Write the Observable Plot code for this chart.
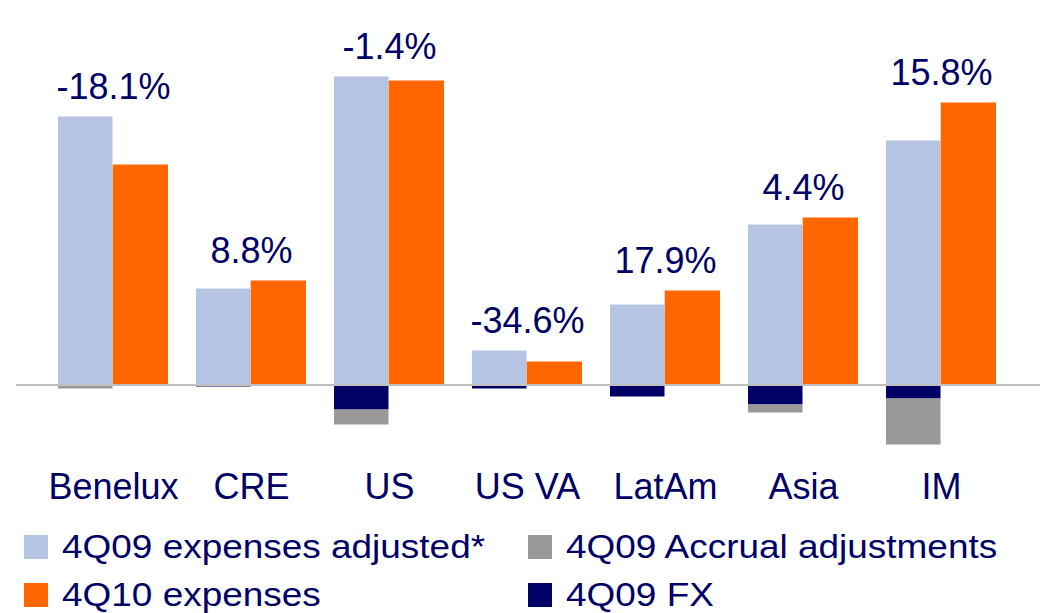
<!DOCTYPE html>
<html>
<head>
<meta charset="utf-8">
<script src="https://cdn.jsdelivr.net/npm/d3@7"></script>
<script src="https://cdn.jsdelivr.net/npm/@observablehq/plot@0.6"></script>
<style>
  html, body { margin: 0; padding: 0; background: #fff; }
  #wrap { width: 1047px; height: 613px; overflow: hidden; font-family: "Liberation Sans", Arial, sans-serif; }
  #wrap svg { display: block; }
</style>
</head>
<body>
<div id="wrap"></div>
<script>
// ---- data ----
const categories = ["Benelux", "CRE", "US", "US VA", "LatAm", "Asia", "IM"];
const expenses4Q09Adjusted = [268, 96, 308, 34, 80, 160, 244];
const expenses4Q10 = [220, 104, 304, 23, 94, 167, 282];
const fx4Q09 = [0, -2, -25, -4, -12, -20, -14];
const accrual4Q09 = [-4, 0, -15, 0, 0, -8, -46];
const changeLabels = ["-18.1%", "8.8%", "-1.4%", "-34.6%", "17.9%", "4.4%", "15.8%"];
const legendLabels = ["4Q09 expenses adjusted*", "4Q10 expenses", "4Q09 Accrual adjustments", "4Q09 FX"];

const C_ADJ = "#B4C4E2", C_10 = "#FF6600", C_ACC = "#999999", C_FX = "#000066", NAVY = "#000066";

const rows = categories.map((c, i) => ({
  cat: c, a: expenses4Q09Adjusted[i], b: expenses4Q10[i],
  fx: fx4Q09[i], acc: accrual4Q09[i], label: changeLabels[i],
  top: Math.max(expenses4Q09Adjusted[i], expenses4Q10[i])
}));
const neg = [];
rows.forEach(r => {
  neg.push({cat: r.cat, y1: 0, y2: r.fx, fill: C_FX});
  neg.push({cat: r.cat, y1: r.fx, y2: r.fx + r.acc, fill: C_ACC});
});

const W = 1047, H = 520;
const xRange = [28, 1027], xPad = 0.2;
const step = (xRange[1] - xRange[0]) / (categories.length - xPad + 2 * xPad);
const half = step * (1 - xPad) / 2;

const chart = Plot.plot({
  width: W, height: H,
  marginLeft: 16, marginRight: 7, marginTop: 0, marginBottom: 75,
  style: {fontFamily: "'Liberation Sans', Arial, sans-serif", color: NAVY, background: "#fff"},
  x: {domain: categories, range: xRange, padding: xPad, axis: null},
  y: {domain: [-60.5, 384.5], axis: null},
  color: {type: "identity"},
  marks: [
    Plot.barY(rows, {x: "cat", y: "a", fill: C_ADJ, insetRight: half}),
    Plot.barY(rows, {x: "cat", y: "b", fill: C_10, insetLeft: half - 0.8}),
    Plot.barY(neg, {x: "cat", y1: "y1", y2: "y2", fill: "fill", insetRight: half}),
    Plot.ruleY([0], {stroke: "#C0C0C0", strokeWidth: 2}),
    Plot.text(rows, {x: "cat", y: "top", text: "label", fontSize: 36, lineAnchor: "bottom", dy: -18, fill: NAVY}),
    Plot.axisX({tickSize: 0, tickPadding: 28, fontSize: 36, fill: NAVY, label: null})
  ]
});
document.getElementById("wrap").appendChild(chart);

// ---- legend below the chart ----
const legendColors = [C_ADJ, C_10, C_ACC, C_FX];
const lg = d3.select("#wrap").append("svg").attr("width", W).attr("height", 93);
const pos = [[24, 0], [24, 1], [528, 0], [528, 1]];
legendLabels.forEach((t, i) => {
  const [x, r] = pos[i];
  const base = 38 + r * 48;
  lg.append("rect").attr("x", x).attr("y", base - 23).attr("width", 24).attr("height", 24).attr("fill", legendColors[i]);
  lg.append("text").attr("transform", `translate(${x + 38},${base}) scale(1.12,1)`)
    .attr("font-family", "'Liberation Sans', Arial, sans-serif").attr("font-size", 33).attr("fill", NAVY).text(t);
});
</script>
</body>
</html>
